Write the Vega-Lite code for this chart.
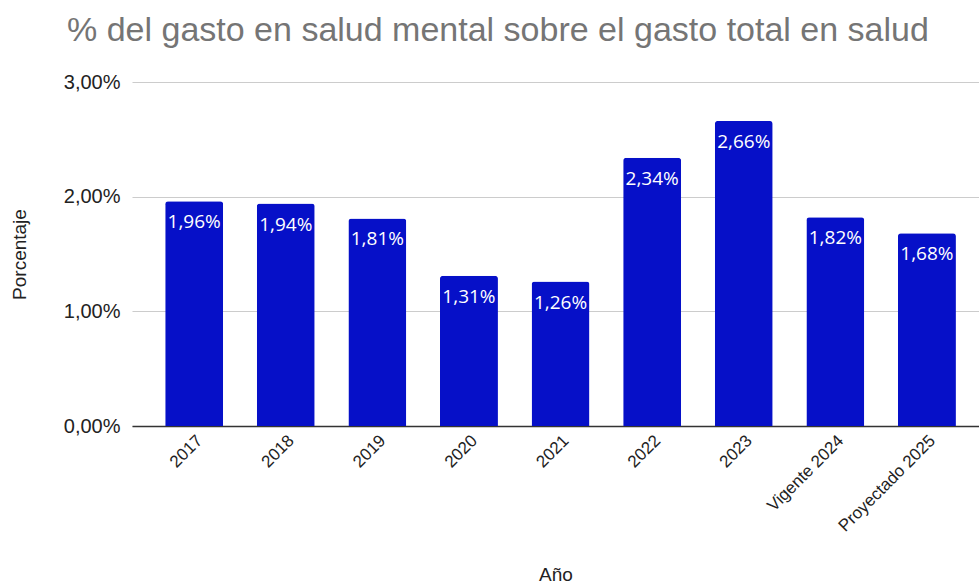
{
  "$schema": "https://vega.github.io/schema/vega-lite/v6.json",
  "autosize": "none",
  "padding": {"left": 132, "top": 82, "right": 0, "bottom": 161},
  "width": 847,
  "height": 344,
  "background": "white",
  "config": {
    "locale": {"number": {"decimal": ",", "thousands": ".", "grouping": [3], "currency": ["", " €"]}},
    "view": {"stroke": null}
  },
  "title": {
    "text": "% del gasto en salud mental sobre el gasto total en salud",
    "anchor": "start",
    "frame": "group",
    "dx": -65,
    "offset": 24,
    "font": "Liberation Sans",
    "fontSize": 34,
    "fontWeight": "normal",
    "color": "#757575"
  },
  "data": {
    "values": [
      {"anio": "2017", "valor": 0.0196},
      {"anio": "2018", "valor": 0.0194},
      {"anio": "2019", "valor": 0.0181},
      {"anio": "2020", "valor": 0.0131},
      {"anio": "2021", "valor": 0.0126},
      {"anio": "2022", "valor": 0.0234},
      {"anio": "2023", "valor": 0.0266},
      {"anio": "Vigente 2024", "valor": 0.0182},
      {"anio": "Proyectado 2025", "valor": 0.0168}
    ]
  },
  "encoding": {
    "x": {
      "field": "anio",
      "type": "nominal",
      "sort": null,
      "scale": {"paddingInner": 0.367, "paddingOuter": 0.307, "align": 0.59},
      "axis": {
        "title": "Año",
        "titleFont": "Liberation Sans",
        "titleFontSize": 19,
        "titleFontWeight": "normal",
        "titleColor": "#222",
        "titlePadding": 31,
        "labelAngle": -45,
        "labelFont": "Liberation Sans",
        "labelFontSize": 17,
        "labelColor": "#222",
        "labelPadding": 6,
        "ticks": false,
        "domainColor": "#333",
        "domainWidth": 1.5
      }
    },
    "y": {
      "field": "valor",
      "type": "quantitative",
      "scale": {"domain": [0, 0.03]},
      "axis": {
        "title": "Porcentaje",
        "titleFont": "Liberation Sans",
        "titleFontSize": 19,
        "titleFontWeight": "normal",
        "titleColor": "#222",
        "titlePadding": 34,
        "values": [0, 0.01, 0.02, 0.03],
        "format": ".2%",
        "labelFont": "Liberation Sans",
        "labelFontSize": 20,
        "labelColor": "#222",
        "labelPadding": 12,
        "ticks": false,
        "domain": false,
        "gridColor": "#cccccc",
        "gridWidth": 1.2
      }
    }
  },
  "layer": [
    {
      "mark": {"type": "bar", "color": "#0610c8", "cornerRadiusTopLeft": 3, "cornerRadiusTopRight": 3}
    },
    {
      "mark": {"type": "text", "baseline": "top", "dy": 12, "color": "white", "font": "Open Sans", "fontSize": 19},
      "encoding": {
        "text": {"field": "valor", "type": "quantitative", "format": ".2%"}
      }
    }
  ]
}
